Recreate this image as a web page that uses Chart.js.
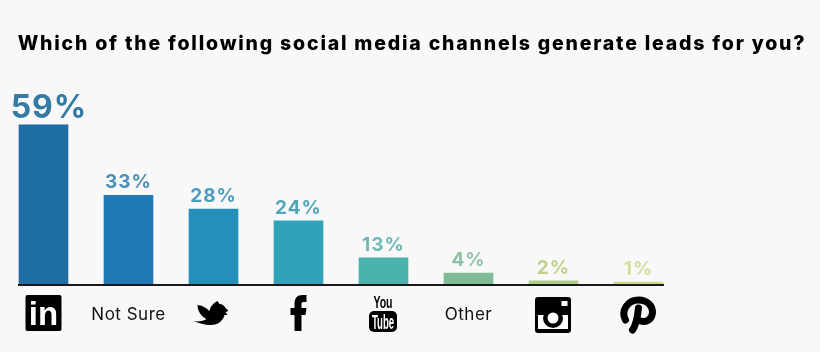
<!DOCTYPE html>
<html>
<head>
<meta charset="utf-8">
<title>Social media channels</title>
<script src="https://cdn.jsdelivr.net/npm/chart.js@4"></script>
<style>
    html, body { margin: 0; padding: 0; background: #f8f8f8; }
    #wrap { position: relative; width: 820px; height: 352px; }
</style>
</head>
<body>
<div id="wrap"><canvas id="leadsChart" width="820" height="352"></canvas></div>
<script>
// 图表数据
const chartTitle = 'Which of the following social media channels generate leads for you?';
const categories = ['LinkedIn', 'Not Sure', 'Twitter', 'Facebook', 'YouTube', 'Other', 'Instagram', 'Pinterest'];
const textCategories = ['Not Sure', 'Other'];
// printed percentages
const valueLabels = ['59%', '33%', '28%', '24%', '13%', '4%', '2%', '1%'];
// bar heights as drawn in the picture (the short bars are lower than their printed value)
const barValues = [59, 33, 28, 23.6, 10, 4.4, 1.5, 1.1];
const barColors = ['#1f6ea6', '#2279b7', '#2390bb', '#30a3ba', '#4bb2ac', '#7fbb95', '#aecb8b', '#cfd98a'];
const labelColors = ['#347aa5', '#4a8fb6', '#4a9bbd', '#50a6b8', '#6cb9b5', '#8fc0a5', '#bcd28c', '#d5de99'];

const INK = '#000000';

// 图标绘制, 原点为图标中心
const iconDrawers = {
    LinkedIn(ctx) {
        ctx.translate(0, -1);
        ctx.fillStyle = INK;
        ctx.beginPath();
        ctx.roundRect(-18, -18, 36, 36, 2);
        ctx.fill();
        ctx.fillStyle = '#ffffff';
        ctx.font = 'bold 33px "Liberation Sans"';
        ctx.textAlign = 'center';
        ctx.textBaseline = 'alphabetic';
        ctx.fillText('in', 0, 12);
    },
    Twitter(ctx) {
        ctx.translate(-2, 0);
        ctx.fillStyle = INK;
        ctx.fill(new Path2D('M-14 -9C-10 -9 -5 -6 -2 -3C-1 -8 2 -11 6 -13L8 -10C11 -10 13 -8 14 -6L17 -3L14 -2L16 1L13 1C12 6 7 11 -1 11C-7 11 -13 9 -18 7C-13 8 -8 7 -5 5C-10 3 -14 -3 -14 -9Z'));
    },
    Facebook(ctx) {
        ctx.translate(0, -1);
        ctx.fillStyle = INK;
        ctx.fill(new Path2D('M-4 18V2H-8V-5H-4V-9C-4 -15 -1 -18 4 -18H8V-11H5C3 -11 3 -10 3 -8V-5H8L7 2H3V18Z'));
    },
    YouTube(ctx) {
        ctx.translate(-0.5, 0);
        ctx.fillStyle = INK;
        ctx.textAlign = 'center';
        ctx.textBaseline = 'alphabetic';
        ctx.save();
        ctx.scale(0.62, 1);
        ctx.font = 'bold 17px "Liberation Sans"';
        ctx.fillText('You', 0, -6);
        ctx.restore();
        ctx.beginPath();
        ctx.roundRect(-14, -3, 28, 21, 5);
        ctx.fill();
        ctx.fillStyle = '#ffffff';
        ctx.save();
        ctx.scale(0.48, 1);
        ctx.font = 'bold 20px "Liberation Sans"';
        ctx.fillText('Tube', 0, 15);
        ctx.restore();
    },
    Instagram(ctx) {
        ctx.translate(-0.5, 1);
        ctx.fillStyle = INK;
        ctx.beginPath();
        ctx.roundRect(-18, -18, 36, 36, 3);
        ctx.fill();
        ctx.fillStyle = '#ffffff';
        ctx.fillRect(-15, 0, 30, 14);
        ctx.fillRect(8.5, -14, 6, 5);
        ctx.fillStyle = INK;
        ctx.beginPath();
        ctx.arc(0, 3, 10, 0, Math.PI * 2);
        ctx.fill();
        ctx.fillStyle = '#ffffff';
        ctx.beginPath();
        ctx.arc(0, 3, 5.5, 0, Math.PI * 2);
        ctx.fill();
    },
    Pinterest(ctx) {
        ctx.translate(-1, 1);
        ctx.strokeStyle = INK;
        ctx.lineWidth = 7;
        ctx.lineCap = 'round';
        ctx.stroke(new Path2D('M-12 5C-17 -4 -10 -15 1 -15C10 -15 15 -9 15 -3C15 4 9 8 3 6'));
        ctx.stroke(new Path2D('M1 -7C0 2 -1 10 -5 15'));
    }
};

// 绘制数值标签, 基线和图标
const decorPlugin = {
    id: 'decor',
    beforeDraw(chart) {
        chart.ctx.letterSpacing = '1.8px';
    },
    afterDatasetsDraw(chart) {
        const ctx = chart.ctx;
        const bars = chart.getDatasetMeta(0).data;

        ctx.save();
        ctx.textAlign = 'center';
        ctx.textBaseline = 'alphabetic';
        bars.forEach(function(bar, i) {
            ctx.fillStyle = labelColors[i];
            ctx.letterSpacing = '1px';
            ctx.font = (i === 0 ? '700 32px' : '700 19px') + ' Inter';
            // 59% 在原图里偏右
            ctx.fillText(valueLabels[i], bar.x + (i === 0 ? 5.5 : 0), bar.y - 7);
        });
        ctx.restore();

        // 基线只覆盖柱子范围
        const bottom = chart.scales.y.getPixelForValue(0);
        ctx.save();
        ctx.strokeStyle = '#1a1a1a';
        ctx.lineWidth = 2;
        ctx.beginPath();
        ctx.moveTo(bars[0].x - bars[0].width / 2 - 1, bottom);
        ctx.lineTo(bars[bars.length - 1].x + bars[bars.length - 1].width / 2 + 1, bottom);
        ctx.stroke();
        ctx.restore();

        categories.forEach(function(name, i) {
            const draw = iconDrawers[name];
            if (!draw) return;
            ctx.save();
            ctx.letterSpacing = '0px';
            ctx.translate(chart.scales.x.getPixelForValue(i), 314);
            draw(ctx);
            ctx.restore();
        });
    }
};

const leadsChart = new Chart(document.getElementById('leadsChart'), {
    type: 'bar',
    data: {
        labels: categories,
        datasets: [{
            label: 'Leads',
            data: barValues,
            backgroundColor: barColors,
            barThickness: 49
        }]
    },
    plugins: [decorPlugin],
    options: {
        responsive: false,
        animation: false,
        // 右边负内边距让标题中心右移, 和原图对齐
        layout: { padding: { left: 1, right: -3 } },
        plugins: {
            legend: { display: false },
            tooltip: { enabled: false },
            title: {
                display: true,
                text: chartTitle,
                color: '#000000',
                font: { family: 'Inter', size: 19.5, weight: '800' },
                padding: { top: 32, bottom: 26 }
            }
        },
        scales: {
            x: {
                grid: { display: false },
                border: { display: false },
                afterFit(scale) { scale.height = 67; },
                afterUpdate(scale) {
                    // 刻度文字的字距比标题小
                    const drawLabels = scale.drawLabels;
                    scale.drawLabels = function(area) {
                        const ctx = scale.ctx;
                        const previous = ctx.letterSpacing;
                        ctx.letterSpacing = '0.5px';
                        drawLabels.call(scale, area);
                        ctx.letterSpacing = previous;
                    };
                },
                ticks: {
                    color: '#111111',
                    padding: 12,
                    maxRotation: 0,
                    autoSkip: false,
                    font: { family: 'Inter', size: 17 },
                    callback(value) {
                        const name = this.getLabelForValue(value);
                        return textCategories.includes(name) ? name : '';
                    }
                }
            },
            y: {
                position: 'right',
                min: 0,
                max: 75,
                grid: { display: false },
                border: { display: false },
                ticks: { display: false },
                afterFit(scale) { scale.width = 142; }
            }
        }
    }
});
</script>
</body>
</html>
